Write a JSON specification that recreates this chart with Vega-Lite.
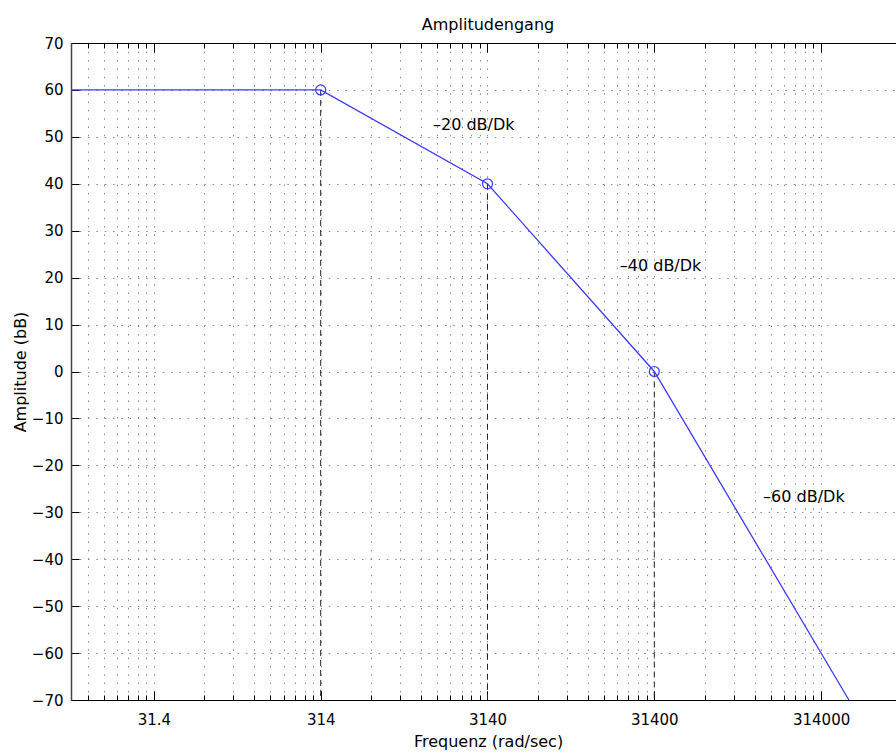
{
  "$schema": "https://vega.github.io/schema/vega-lite/v6.json",
  "width": 825,
  "height": 657,
  "autosize": {"type": "none"},
  "padding": {"left": 71, "top": 43, "right": 0, "bottom": 55},
  "background": "white",
  "config": {"view": {"stroke": null}},
  "title": {"text": "Amplitudengang", "font": "DejaVu Sans", "fontSize": 16, "fontWeight": "normal", "color": "black", "dx": 4.5, "offset": -13, "baseline": "bottom"},
  "datasets": {
    "bode": [
      {"f": 10, "a": 60},
      {"f": 314, "a": 60},
      {"f": 3140, "a": 40},
      {"f": 31400, "a": 0},
      {"f": 460900, "a": -70}
    ],
    "breaks": [
      {"f": 314, "a": 60},
      {"f": 3140, "a": 40},
      {"f": 31400, "a": 0}
    ],
    "notes": [
      {"f": 1480, "a": 52.5, "t": "–20 dB/Dk"},
      {"f": 19500, "a": 22.5, "t": "–40 dB/Dk"},
      {"f": 141000, "a": -26.7, "t": "–60 dB/Dk"}
    ]
  },
  "encoding": {
    "y": {
      "field": "a", "type": "quantitative",
      "scale": {"domain": [-70, 70], "nice": false, "zero": false},
      "axis": {
        "title": "Amplitude (bB)",
        "values": [-70, -60, -50, -40, -30, -20, -10, 0, 10, 20, 30, 40, 50, 60, 70],
        "labelFont": "DejaVu Sans", "labelFontSize": 15, "labelColor": "black",
        "tickSize": -8, "tickColor": "black", "labelPadding": 16,
        "domainColor": "#444", "domainWidth": 1.5,
        "grid": true, "gridColor": "#8c8c8c", "gridDash": [1.5, 6.8], "gridWidth": 1,
        "titleFont": "DejaVu Sans", "titleFontSize": 16, "titleFontWeight": "normal", "titleColor": "black", "titlePadding": 3
      }
    }
  },
  "resolve": {"axis": {"x": "independent"}},
  "layer": [
    {
      "data": {"name": "breaks"},
      "mark": {"type": "rule", "color": "#222", "strokeWidth": 1, "strokeDash": [6, 4]},
      "encoding": {
        "x": {
          "field": "f", "type": "quantitative",
          "scale": {"type": "log", "domain": [10, 883000], "nice": false, "zero": false},
          "axis": {
            "orient": "bottom",
            "title": "Frequenz (rad/sec)",
            "values": [12.56, 15.7, 18.84, 21.98, 25.12, 28.26, 31.4, 62.8, 94.2, 125.6, 157, 188.4, 219.8, 251.2, 282.6, 314, 628, 942, 1256, 1570, 1884, 2198, 2512, 2826, 3140, 6280, 9420, 12560, 15700, 18840, 21980, 25120, 28260, 31400, 62800, 94200, 125600, 157000, 188400, 219800, 251200, 282600, 314000],
            "labelExpr": "indexof([31.4, 314, 3140, 31400, 314000], datum.value) >= 0 ? toString(datum.value) : ''",
            "labelOverlap": false, "labelFlush": false, "labelBound": false,
            "labelFont": "DejaVu Sans", "labelFontSize": 15, "labelColor": "black", "labelPadding": 21,
            "tickSize": {"condition": {"test": "indexof([31.4, 314, 3140, 31400, 314000], datum.value) >= 0", "value": -9}, "value": -5},
            "tickColor": "black", "tickWidth": 1,
            "domainColor": "black", "domainWidth": 1,
            "grid": true, "gridColor": "#8c8c8c", "gridDash": [1.5, 6.8], "gridWidth": 1,
            "titleFont": "DejaVu Sans", "titleFontSize": 16, "titleFontWeight": "normal", "titleColor": "black", "titleX": 417, "titlePadding": 2
          }
        },
        "y2": {"datum": -70}
      }
    },
    {
      "data": {"name": "bode"},
      "mark": {"type": "line", "color": "#3a3aff", "strokeWidth": 1.3},
      "encoding": {
        "x": {"field": "f", "type": "quantitative", "scale": {"type": "log", "domain": [10, 883000], "nice": false, "zero": false}, "axis": null}
      }
    },
    {
      "data": {"name": "breaks"},
      "mark": {"type": "point", "shape": "circle", "filled": false, "color": "#3a3aff", "size": 100, "strokeWidth": 1.2, "opacity": 1},
      "encoding": {
        "x": {
          "field": "f", "type": "quantitative",
          "scale": {"type": "log", "domain": [10, 883000], "nice": false, "zero": false},
          "axis": {
            "orient": "top", "title": null, "labels": false, "grid": false,
            "values": [12.56, 15.7, 18.84, 21.98, 25.12, 28.26, 31.4, 62.8, 94.2, 125.6, 157, 188.4, 219.8, 251.2, 282.6, 314, 628, 942, 1256, 1570, 1884, 2198, 2512, 2826, 3140, 6280, 9420, 12560, 15700, 18840, 21980, 25120, 28260, 31400, 62800, 94200, 125600, 157000, 188400, 219800, 251200, 282600, 314000],
            "tickSize": {"condition": {"test": "indexof([31.4, 314, 3140, 31400, 314000], datum.value) >= 0", "value": -9}, "value": -5},
            "tickColor": "black", "tickWidth": 1,
            "domainColor": "black", "domainWidth": 1
          }
        }
      }
    },
    {
      "data": {"name": "notes"},
      "mark": {"type": "text", "align": "left", "baseline": "middle", "font": "DejaVu Sans", "fontSize": 16, "color": "black"},
      "encoding": {
        "x": {"field": "f", "type": "quantitative", "scale": {"type": "log", "domain": [10, 883000], "nice": false, "zero": false}, "axis": null},
        "text": {"field": "t", "type": "nominal"}
      }
    }
  ]
}
